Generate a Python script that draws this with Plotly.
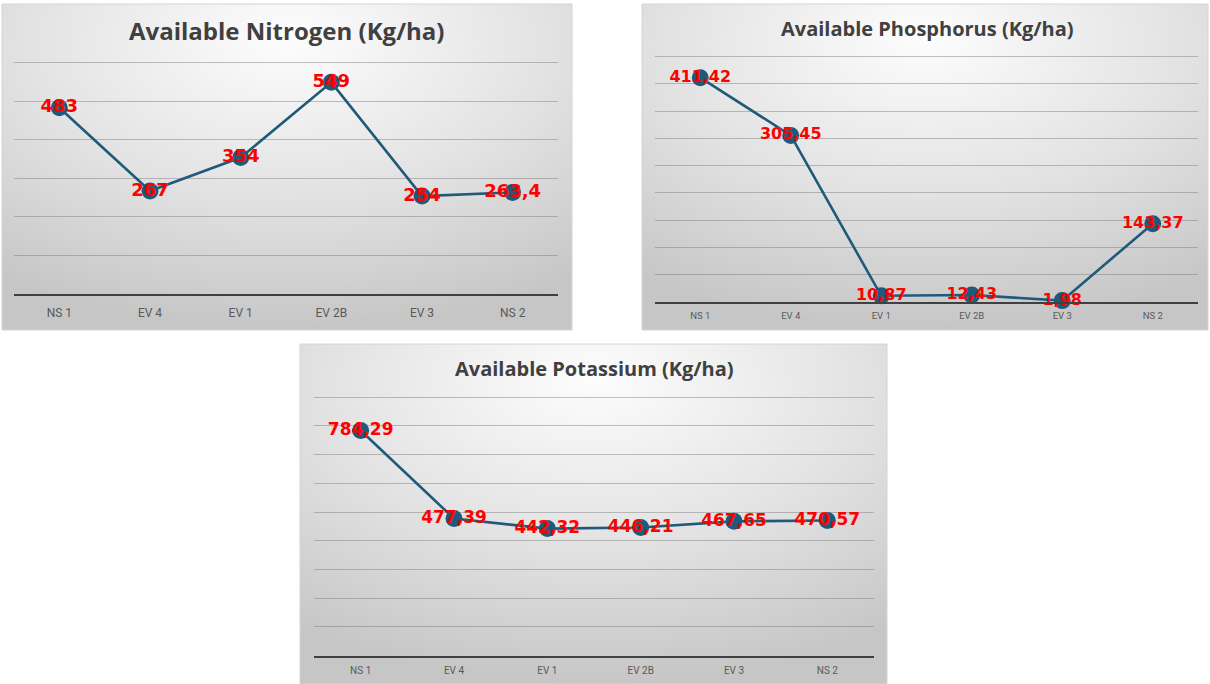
import base64
import plotly.graph_objects as go

# ---------------- data ----------------
categories = ["NS 1", "EV 4", "EV 1", "EV 2B", "EV 3", "NS 2"]
nitrogen = [483, 267, 354, 549, 254, 263.4]
phosphorus = [411.42, 305.45, 10.87, 12.43, 1.98, 143.37]
potassium = [784.29, 477.39, 442.32, 446.21, 467.65, 470.57]

titles = ["Available Nitrogen (Kg/ha)", "Available Phosphorus (Kg/ha)", "Available Potassium (Kg/ha)"]
y_max = [600, 450, 900]
y_step = [100, 50, 100]

W, H = 1210, 684
LINE_COLOR = "#1f5a7a"
PAD = 1.03  # extra headroom so the top gridline is drawn


def px_x(v):
    return v / W


def px_y(v):
    return 1 - v / H


def fmt(v):
    s = ("%g" % v)
    return s.replace(".", ",")


# panel boxes (pixels): left, top, right, bottom
panels = [(2, 4, 572, 330), (642, 4, 1208, 330), (300, 344, 887, 684)]
# plot areas (pixels): left, right, y of zero, y of max
plots = [(14, 558, 294, 62.7), (655, 1198, 301.7, 56.7), (314, 874, 655.5, 397.3)]
title_pos = [(286, 31, 24), (927, 28, 20), (594, 368, 20)]
label_sizes = [18, 16, 17]
tick_sizes = [12, 9.5, 10]
tick_standoff = [7, 4, 4]

svg = (
    '<svg xmlns="http://www.w3.org/2000/svg" width="100" height="100" viewBox="0 0 100 100" preserveAspectRatio="none">'
    '<defs><radialGradient id="g" cx="50%" cy="15%" r="85%" fx="50%" fy="10%">'
    '<stop offset="0%" stop-color="#fdfdfd"/>'
    '<stop offset="55%" stop-color="#e2e2e2"/>'
    '<stop offset="100%" stop-color="#c6c6c6"/>'
    '</radialGradient></defs>'
    '<rect x="0" y="0" width="100" height="100" fill="url(#g)"/></svg>'
)
svg_uri = "data:image/svg+xml;base64," + base64.b64encode(svg.encode()).decode()

fig = go.Figure()
series = [nitrogen, phosphorus, potassium]

images = []
shapes = []
annotations = []
layout_axes = {}

for i, vals in enumerate(series):
    n = "" if i == 0 else str(i + 1)
    fig.add_trace(go.Scatter(
        x=categories, y=vals,
        xaxis="x" + n, yaxis="y" + n,
        mode="lines+markers+text",
        line=dict(color=LINE_COLOR, width=2.6),
        marker=dict(color=LINE_COLOR, size=17),
        text=[fmt(v) for v in vals],
        textposition="middle center",
        textfont=dict(family="DejaVu Sans", size=label_sizes[i], color="#ff0000", weight=700),
        cliponaxis=False,
        showlegend=False,
        hoverinfo="skip",
    ))
    l, t, r, b = panels[i]
    images.append(dict(
        source=svg_uri, xref="paper", yref="paper",
        x=px_x(l), y=px_y(t), sizex=(r - l) / W, sizey=(b - t) / H,
        xanchor="left", yanchor="top", sizing="stretch", layer="below",
    ))
    shapes.append(dict(
        type="rect", xref="paper", yref="paper",
        x0=px_x(l), x1=px_x(r), y0=px_y(b), y1=px_y(t),
        line=dict(color="#d4d4d4", width=1), fillcolor="rgba(0,0,0,0)", layer="below",
    ))
    tx, ty, ts = title_pos[i]
    annotations.append(dict(
        text=titles[i], xref="paper", yref="paper", x=px_x(tx), y=px_y(ty),
        xanchor="center", yanchor="middle", showarrow=False,
        font=dict(family="Open Sans", size=ts, color="#404040", weight=700),
    ))
    pl, pr, y0, y1 = plots[i]
    y_top = y0 - (y0 - y1) * PAD
    layout_axes["xaxis" + n] = dict(
        domain=[px_x(pl), px_x(pr)], anchor="y" + n, type="category",
        range=[-0.5, len(categories) - 0.5],
        showline=True, linecolor="#404040", linewidth=2, showgrid=False,
        ticks="", ticklabelstandoff=tick_standoff[i],
        tickfont=dict(family="Roboto", size=tick_sizes[i], color="#595959"),
        fixedrange=True,
    )
    layout_axes["yaxis" + n] = dict(
        domain=[px_y(y0), px_y(y_top)], anchor="x" + n,
        range=[0, y_max[i] * PAD], dtick=y_step[i], tick0=0,
        showgrid=True, gridcolor="rgba(120,120,120,0.45)", gridwidth=1,
        zeroline=False, showticklabels=False, showline=False,
        fixedrange=True,
    )

fig.update_layout(
    width=W, height=H,
    margin=dict(l=0, r=0, t=0, b=0),
    paper_bgcolor="white", plot_bgcolor="rgba(0,0,0,0)",
    images=images, shapes=shapes, annotations=annotations,
    **layout_axes,
)

fig.write_html("out.html", config={"displayModeBar": False})
